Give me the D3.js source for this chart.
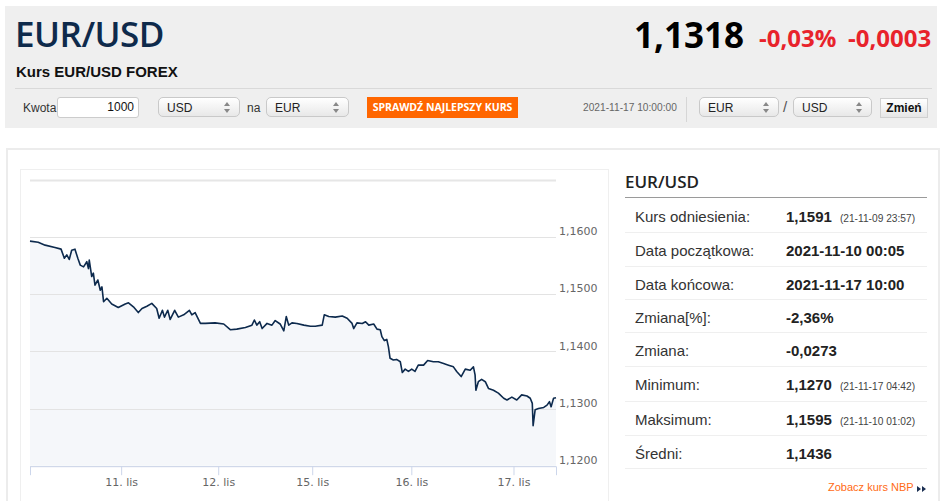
<!DOCTYPE html>
<html>
<head>
<meta charset="utf-8">
<script src="https://cdn.jsdelivr.net/npm/d3@7"></script>
<style>
body{margin:0;width:948px;height:501px;overflow:hidden;background:#fff;position:relative;font-family:Arial,"Liberation Sans",sans-serif;color:#333}
.a{position:absolute;white-space:nowrap}
.sel{position:absolute;height:20px;line-height:20px;border:1px solid #c9c9c9;border-radius:5px;background:linear-gradient(#fff,#e8e8e8);font-size:12px;color:#222;padding-left:8px;box-sizing:border-box}
.sel:after{content:"";position:absolute;right:9px;top:4px;border:3px solid transparent;border-bottom:4px solid #888;border-top:0}
.sel:before{content:"";position:absolute;right:9px;top:11px;border:3px solid transparent;border-top:4px solid #888;border-bottom:0}
.row{position:absolute;left:625px;width:302px;height:34px;border-bottom:1px solid #efefef;font-size:15px}
.row .l{position:absolute;left:10px;top:9px}
.row .v{position:absolute;left:161px;top:9px;font-weight:bold;color:#222}
.row .s{font-weight:normal;font-size:10.2px;color:#444;margin-left:8px}
</style>
</head>
<body>
<div class="a" style="left:5px;top:6px;width:932px;height:122px;background:#efefef"></div>
<div class="a" style="left:15px;top:10px;font-family:'Open Sans';font-weight:600;font-size:35px;color:#0e2a4b;letter-spacing:-0.5px">EUR/USD</div>
<div class="a" style="left:16px;top:63px;font-weight:bold;font-size:15px;color:#111">Kurs EUR/USD FOREX</div>
<div class="a" style="left:15px;top:88px;width:917px;height:1px;background:#d9d9d9"></div>
<div class="a" style="left:634px;top:11px;font-family:'Open Sans';font-weight:700;font-size:35px;color:#000">1,1318</div>
<div class="a" style="left:759px;top:21px;font-family:'Open Sans';font-weight:700;font-size:24px;color:#e8232b">-0,03%</div>
<div class="a" style="left:848px;top:21px;font-family:'Open Sans';font-weight:700;font-size:24px;color:#e8232b">-0,0003</div>

<div class="a" style="left:23px;top:101px;font-size:12px;color:#333">Kwota</div>
<div class="a" style="left:57px;top:97px;width:82px;height:21px;background:#fff;border:1px solid #ccc;border-radius:3px;box-sizing:border-box;text-align:right;padding-right:4px;font-size:12px;line-height:19px;color:#111">1000</div>
<div class="sel" style="left:158px;top:97px;width:82px">USD</div>
<div class="a" style="left:247px;top:101px;font-size:12px;color:#333">na</div>
<div class="sel" style="left:266px;top:97px;width:83px">EUR</div>
<div class="a" style="left:367px;top:97px;width:151px;height:21px;background:#ff6600;color:#fff;font-family:'Open Sans';font-weight:700;font-size:10.5px;line-height:21px;text-align:center">SPRAWDŹ NAJLEPSZY KURS</div>
<div class="a" style="left:583px;top:102px;font-size:10.2px;color:#666">2021-11-17 10:00:00</div>
<div class="a" style="left:686px;top:97px;width:1px;height:25px;background:#d6d6d6"></div>
<div class="sel" style="left:699px;top:97px;width:80px">EUR</div>
<div class="a" style="left:783px;top:98px;font-size:15px;color:#555">/</div>
<div class="sel" style="left:793px;top:97px;width:79px">USD</div>
<div class="a" style="left:880px;top:98px;width:48px;height:20px;border:1px solid #d0d0d0;background:linear-gradient(#fff,#e6e6e6);box-sizing:border-box;text-align:center;font-weight:bold;font-size:12px;line-height:18px;color:#111">Zmień</div>

<div class="a" style="left:6px;top:148px;width:934px;height:360px;border:2px solid #ececec;box-sizing:border-box"></div>
<div class="a" style="left:20px;top:169px;width:589px;height:340px;border:1px solid #efefef;box-sizing:border-box"></div>

<div class="a" style="left:625px;top:170px;font-family:'Open Sans';font-weight:600;font-size:17px;color:#222">EUR/USD</div>
<div class="a" style="left:625px;top:197px;width:302px;height:1px;background:#9a9a9a"></div>
<div id="table"></div>
<div class="a" style="left:828px;top:481px;font-size:11px;color:#ff6a13">Zobacz kurs NBP</div>
<svg class="a" style="left:917px;top:485px" width="10" height="8"><path d="M0,1L4,4L0,7ZM5,1L9,4L5,7Z" fill="#1b2f52"/></svg>

<svg id="chart" class="a" style="left:0;top:0" width="948" height="501"></svg>

<script>
// czas notowania w godzinach od 10.11 00:00 (bez weekendu)
var hours=[1.7,3.7,5.4,7.8,9.3,10.1,10.7,11.3,11.9,12.7,13.4,14.0,14.8,15.6,16.0,16.2,16.8,17.2,17.6,18.3,18.9,19.3,19.7,20.5,21.7,23.3,25.0,25.8,27.0,28.2,29.1,30.3,31.5,32.7,33.3,34.1,34.6,35.4,36.0,37.1,38.0,39.3,40.7,41.3,42.1,43.4,44.6,47.0,49.1,50.7,52.3,54.4,56.0,56.6,57.2,57.9,58.5,59.7,60.9,61.7,62.9,63.8,64.4,65.0,65.8,67.0,68.7,70.3,71.5,73.2,73.7,74.8,76.4,78.1,79.3,80.5,80.9,81.7,83.0,83.8,84.6,85.8,86.6,87.4,87.8,88.4,89.0,89.4,89.8,90.6,91.4,92.3,92.8,93.5,94.3,95.1,95.9,96.7,98.0,99.0,100.4,101.6,102.9,104.1,105.3,106.1,107.2,108.2,109.4,110.2,110.6,110.8,111.4,112.2,113.1,113.9,115.1,116.3,117.6,118.4,119.6,120.8,122.0,123.3,124.1,124.6,124.8,125.3,126.1,127.4,128.2,128.8,129.2,129.8,130.4];
var rates=[1.1593,1.1591,1.1586,1.1582,1.1579,1.1563,1.1569,1.1561,1.1577,1.1579,1.1563,1.1551,1.1548,1.1557,1.1545,1.1560,1.1531,1.1537,1.1516,1.1525,1.1507,1.1513,1.1487,1.1493,1.1483,1.1477,1.1483,1.1485,1.1478,1.1468,1.1475,1.1479,1.1484,1.1475,1.1458,1.1472,1.1460,1.1472,1.1456,1.1472,1.1460,1.1464,1.1472,1.1464,1.1468,1.1449,1.1449,1.1450,1.1448,1.1438,1.1439,1.1442,1.1446,1.1455,1.1446,1.1452,1.1440,1.1449,1.1446,1.1454,1.1448,1.1436,1.1461,1.1446,1.1450,1.1449,1.1446,1.1444,1.1444,1.1446,1.1464,1.1461,1.1460,1.1462,1.1458,1.1449,1.1440,1.1450,1.1449,1.1452,1.1446,1.1448,1.1439,1.1438,1.1426,1.1419,1.1421,1.1408,1.1388,1.1385,1.1386,1.1382,1.1363,1.1369,1.1365,1.1369,1.1365,1.1376,1.1376,1.1384,1.1382,1.1382,1.1379,1.1376,1.1373,1.1365,1.1356,1.1369,1.1367,1.1373,1.1359,1.1332,1.1347,1.1351,1.1347,1.1335,1.1332,1.1327,1.1318,1.1315,1.1320,1.1315,1.1324,1.1322,1.1318,1.1309,1.1270,1.1298,1.1300,1.1302,1.1306,1.1312,1.1303,1.1318,1.1319];
var dayTicks=[24,47.75,70.75,95,120];
var dayLabels=["11. lis","12. lis","15. lis","16. lis","17. lis"];
var yTicks=[1.12,1.13,1.14,1.15,1.16,1.17];
var yLabels=["1,1200","1,1300","1,1400","1,1500","1,1600"];

var rowLabels=["Kurs odniesienia:","Data początkowa:","Data końcowa:","Zmiana[%]:","Zmiana:","Minimum:","Maksimum:","Średni:"];
var rowValues=["1,1591","2021-11-10 00:05","2021-11-17 10:00","-2,36%","-0,0273","1,1270","1,1595","1,1436"];
var rowNotes=["(21-11-09 23:57)","","","","","(21-11-17 04:42)","(21-11-10 01:02)",""];
var rowTops=[199,233,267,300,333,367,402,436];

// tabelka
var rows=d3.select('#table').selectAll('div')
    .data(rowLabels)
    .enter().append('div')
    .attr('class','row')
    .style('top',function(d,i){return rowTops[i]+'px';})
    .style('height',function(d,i){return ((i<7?rowTops[i+1]:469)-rowTops[i]-1)+'px';});
rows.append('div').attr('class','l').text(function(d){return d;});
var v=rows.append('div').attr('class','v').text(function(d,i){return rowValues[i];});
v.append('span').attr('class','s').text(function(d,i){return rowNotes[i];});

// wykres
var margin={left:30,top:180,right:392,bottom:35};
var svg=d3.select('#chart');
var w=948-margin.left-margin.right,
    h=501-margin.top-margin.bottom-0.3;

var x=d3.scaleLinear().domain([1.7,130.4]).range([0,w]);
var y=d3.scaleLinear().domain([1.12,1.17]).range([h,0]);

var g=svg.append('g').attr('transform','translate('+margin.left+','+margin.top+')');

//siatka
g.append('g').selectAll('line')
    .data(yTicks)
    .enter().append('line')
    .attr('x1',0).attr('x2',w)
    .attr('y1',function(d){return Math.round(y(d))+0.5;})
    .attr('y2',function(d){return Math.round(y(d))+0.5;})
    .attr('stroke','#e6e6e6')
    .attr('stroke-width',function(d){return d==1.17?2:1;});

var pts=hours.map(function(hh,i){return [hh,rates[i]];});

g.append('path')
    .datum(pts)
    .attr('fill','#f5f7fa')
    .attr('d',d3.area().x(function(d){return x(d[0]);}).y0(h).y1(function(d){return y(d[1]);}));

g.selectAll('.grid2').data(yTicks.slice(0,5)).enter().append('line')
    .attr('x1',0).attr('x2',w)
    .attr('y1',function(d){return Math.round(y(d))+0.5;})
    .attr('y2',function(d){return Math.round(y(d))+0.5;})
    .attr('stroke','#e3e3e3');

g.append('path')
    .datum(pts)
    .attr('fill','none')
    .attr('stroke','#0d2a4d')
    .attr('stroke-width',1.6)
    .attr('stroke-linejoin','round')
    .attr('d',d3.line().x(function(d){return x(d[0]);}).y(function(d){return y(d[1]);}));

// os X
var xAxis=d3.axisBottom(x).tickValues(dayTicks)
    .tickFormat(function(d,i){return dayLabels[i];})
    .tickSize(9).tickPadding(3);
var gx=g.append('g').attr('transform','translate(0,'+(h+0.5)+')').call(xAxis);
gx.select('.domain').attr('stroke','#ccd6eb');
gx.selectAll('.tick line').attr('stroke','#ccd6eb');
gx.selectAll('text').attr('fill','#666').style('font-family','DejaVu Sans').style('font-size','11px');

// os Y
var yAxis=d3.axisRight(y).tickValues(yTicks.slice(0,5))
    .tickFormat(function(d,i){return yLabels[i];})
    .tickSize(0).tickPadding(3);
var gy=g.append('g').attr('transform','translate('+w+',0)').call(yAxis);
gy.select('.domain').remove();
gy.selectAll('text').attr('fill','#666').attr('dy','-0.22em').style('font-family','DejaVu Sans').style('font-size','11px');
</script>
</body>
</html>
